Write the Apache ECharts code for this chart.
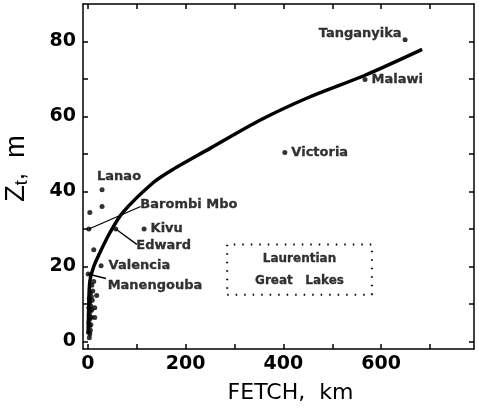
<!DOCTYPE html>
<html>
<head>
<meta charset="utf-8">
<script src="https://cdn.jsdelivr.net/npm/echarts@6/dist/echarts.min.js"></script>
<style>
  html, body { margin: 0; padding: 0; background: #fff; }
  #chart { width: 479px; height: 408px; }
</style>
</head>
<body>
<div id="chart"></div>
<script>
// lakes with a name on the plot
const lakeNames = ['Tanganyika', 'Malawi', 'Victoria', 'Kivu', 'Edward', 'Lanao', 'Barombi Mbo', 'Valencia', 'Manengouba'];
const lakeFetch = [649, 567, 403, 115, 57, 29, 2, 27, 0.5];
const lakeDepth = [80.5, 69.9, 50.4, 30, 30, 40.5, 30, 20.2, 18];

// unlabeled lakes (second Lanao point + small lakes near the origin)
const otherFetch = [29, 4, 12, 3, 4, 2, 5, 3, 6, 2, 4, 7, 14, 3, 5, 8, 2, 6, 14, 4, 9, 3, 7, 18, 5, 10, 8, 12];
const otherDepth = [36, 34.4, 24.5, 1, 2, 2.5, 3, 4, 4.5, 5, 6, 6.5, 6.4, 7, 8, 8.5, 9, 9.5, 9, 10.5, 11, 11.5, 12, 12.3, 13, 13.5, 15, 16];

// fitted curve
const curveFetch = [0.5, 1.5, 4, 12, 22, 45, 72, 134, 174, 250, 352, 450, 567, 684];
const curveDepth = [2, 8, 16, 20, 23, 29, 34.5, 42.4, 45.9, 51.5, 59, 65, 71, 77.9];

// leader lines: lake -> label
const leaderNames = ['Barombi Mbo', 'Edward', 'Manengouba'];
const leaderEndFetch = [108, 100, 37];
const leaderEndDepth = [36, 25.9, 16.8];

// Laurentian Great Lakes range box
const boxFetch = [285, 581];
const boxDepth = [12.5, 25.9];
const boxText = ['Laurentian', 'Great   Lakes'];
const boxTextDepth = [22.1, 16.3];

const xLabelValues = [0, 200, 400, 600];
const xTickValues = [0, 100, 200, 300, 400, 500, 600, 700];
const yLabelValues = [0, 20, 40, 60, 80];
const yTickValues = [0, 10, 20, 30, 40, 50, 60, 70, 80];

const labelStyle = {
  'Tanganyika': { position: 'left', offset: [4, -6] },
  'Malawi': { position: 'right', offset: [-1, 0] },
  'Victoria': { position: 'right', offset: [-1, 0] },
  'Kivu': { position: 'right', offset: [-1, 0] },
  'Edward': { position: 'right', offset: [13, 17] },
  'Lanao': { position: 'top', offset: [17, 1] },
  'Barombi Mbo': { position: 'right', offset: [44, -24] },
  'Valencia': { position: 'right', offset: [0, 0] },
  'Manengouba': { position: 'right', offset: [12, 12] }
};

const chart = echarts.init(document.getElementById('chart'));
const ink = '#000';
const tickFont = { fontFamily: 'DejaVu Sans', fontWeight: 'bold', fontSize: 19, color: ink };
const markFont = { fontFamily: 'DejaVu Sans', fontWeight: 'bold', color: ink, textBorderColor: ink, textBorderWidth: 0.3 };

const lakeData = lakeNames.map((name, i) => ({
  name,
  value: [lakeFetch[i], lakeDepth[i]],
  label: {
    show: true,
    formatter: name,
    position: labelStyle[name].position,
    offset: labelStyle[name].offset
  }
}));

const leaderSeries = leaderNames.map((name, i) => {
  const k = lakeNames.indexOf(name);
  return {
    type: 'line',
    silent: true,
    symbol: 'none',
    lineStyle: { color: ink, width: 1.3 },
    data: [[lakeFetch[k], lakeDepth[k]], [leaderEndFetch[i], leaderEndDepth[i]]],
    z: 3
  };
});

const boxPath = [
  [boxFetch[0], boxDepth[0]], [boxFetch[1], boxDepth[0]],
  [boxFetch[1], boxDepth[1]], [boxFetch[0], boxDepth[1]],
  [boxFetch[0], boxDepth[0]]
];

const lineStyle = { color: ink, width: 1.5 };
const tickStyle = { show: true, inside: true, length: 5, lineStyle: { color: ink, width: 1.5 } };

const option = {
  backgroundColor: '#fff',
  animation: false,
  grid: { left: 83, top: 4, width: 391, height: 345, outerBoundsMode: 'none', containLabel: false },
  xAxis: [
    {
      type: 'value', min: -10, max: 790,
      name: 'FETCH,  km',
      nameLocation: 'middle',
      nameGap: 33,
      nameTextStyle: { fontFamily: 'DejaVu Sans', fontSize: 22, color: ink, padding: [0, 0, 0, 24] },
      axisLine: { show: true, onZero: false, lineStyle },
      axisTick: Object.assign({ customValues: xTickValues }, tickStyle),
      axisLabel: Object.assign({ margin: 6, customValues: xLabelValues }, tickFont),
      splitLine: { show: false }
    },
    {
      type: 'value', position: 'top', min: -10, max: 790,
      axisLine: { show: true, onZero: false, lineStyle },
      axisTick: Object.assign({ customValues: xTickValues }, tickStyle),
      axisLabel: { show: false },
      splitLine: { show: false }
    }
  ],
  yAxis: [
    {
      type: 'value', min: -2, max: 90,
      name: '{z|Z}{t|t}{z|,  m}',
      nameLocation: 'middle',
      nameGap: 52,
      nameTextStyle: {
        padding: [0, 0, 0, 16],
        rich: {
          z: { fontFamily: 'Liberation Sans', fontSize: 27, color: ink },
          t: { fontFamily: 'Liberation Sans', fontSize: 18, color: ink, verticalAlign: 'bottom', padding: [10, 0, 0, 0] }
        }
      },
      axisLine: { show: true, onZero: false, lineStyle },
      axisTick: Object.assign({ customValues: yTickValues }, tickStyle),
      axisLabel: Object.assign({ margin: 7, customValues: yLabelValues }, tickFont),
      splitLine: { show: false }
    },
    {
      type: 'value', position: 'right', min: -2, max: 90,
      axisLine: { show: true, onZero: false, lineStyle },
      axisTick: Object.assign({ customValues: yTickValues }, tickStyle),
      axisLabel: { show: false },
      splitLine: { show: false }
    }
  ],
  series: [
    {
      type: 'line',
      silent: true,
      smooth: 0.3,
      symbol: 'none',
      lineStyle: { color: ink, width: 3.5 },
      data: curveFetch.map((x, i) => [x, curveDepth[i]]),
      z: 2
    },
    ...leaderSeries,
    {
      type: 'scatter',
      symbolSize: 5,
      itemStyle: { color: ink },
      label: Object.assign({ fontSize: 13 }, markFont),
      data: lakeData,
      z: 4
    },
    {
      type: 'scatter',
      symbolSize: 5,
      itemStyle: { color: ink },
      data: otherFetch.map((x, i) => [x, otherDepth[i]]),
      z: 4
    },
    {
      type: 'line',
      silent: true,
      symbol: 'none',
      lineStyle: { color: ink, width: 2, type: [1.5, 7] },
      data: boxPath
    },
    {
      type: 'scatter',
      symbolSize: 0,
      label: Object.assign({ show: true, position: 'inside', formatter: p => p.name, fontSize: 12 }, markFont),
      data: boxText.map((t, i) => ({ name: t, value: [(boxFetch[0] + boxFetch[1]) / 2, boxTextDepth[i]] }))
    }
  ]
};

chart.setOption(option);
</script>
</body>
</html>
